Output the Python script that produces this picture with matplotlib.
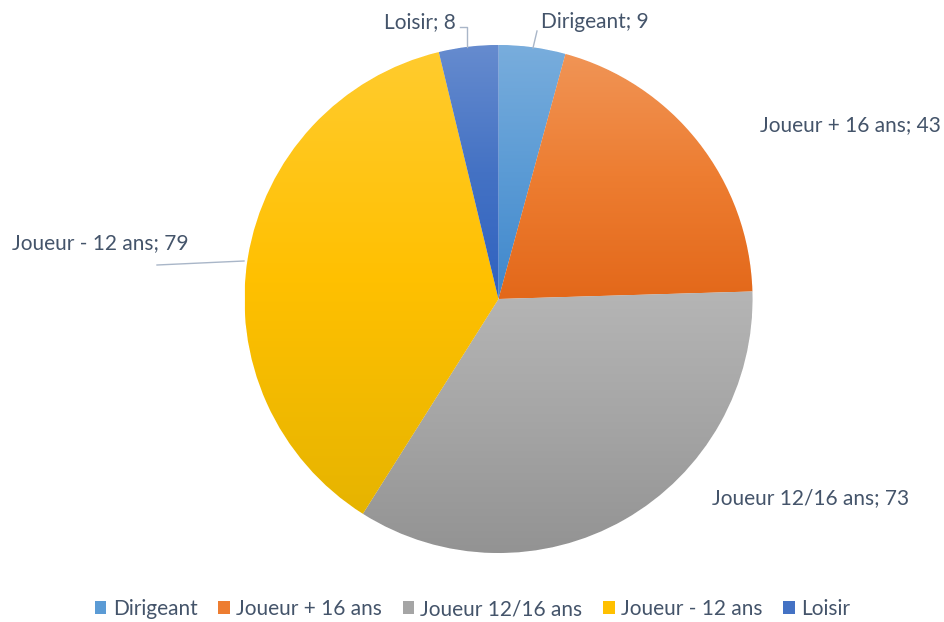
import numpy as np
import matplotlib
matplotlib.use("Agg")
import matplotlib.pyplot as plt
from matplotlib.colors import to_rgb, LinearSegmentedColormap
from matplotlib.patches import Patch

categories = ["Dirigeant", "Joueur + 16 ans", "Joueur 12/16 ans", "Joueur - 12 ans", "Loisir"]
values = [9, 43, 73, 79, 8]
colors = ["#5B9BD5", "#ED7D31", "#A5A5A5", "#FFC000", "#4472C4"]
bottoms = ["#3F87CC", "#E3681A", "#939393", "#E6B400", "#2F62C0"]

plt.rcParams['font.family'] = ['Lato', 'DejaVu Sans']
TEXT = "#44546A"

W, H = 945, 622
fig = plt.figure(figsize=(W / 100, H / 100), dpi=100)
ax = fig.add_axes([0, 0, 1, 1])

cx, cy, R = 498.5, H - 299, 254
wedges, _ = ax.pie(values, colors=colors, startangle=90, counterclock=False,
                   center=(cx, cy), radius=R, frame=True,
                   wedgeprops=dict(linewidth=0.6, edgecolor='white'))
ax.set_xlim(0, W)
ax.set_ylim(0, H)
ax.set_aspect('equal')
ax.axis('off')


def mix(c, t, a):
    c = np.array(to_rgb(c)); t = np.array(t)
    return tuple(c * (1 - a) + t * a)


for w, c, b in zip(wedges, colors, bottoms):
    path = w.get_path().transformed(w.get_patch_transform())
    ext = path.get_extents()
    top = mix(c, (1, 1, 1), 0.18)
    cmap = LinearSegmentedColormap.from_list("g", [to_rgb(b), to_rgb(c), top])
    grad = np.linspace(0, 1, 256).reshape(-1, 1)
    im = ax.imshow(grad, cmap=cmap, origin='lower', aspect='auto',
                   extent=(ext.x0, ext.x1, ext.y0, ext.y1), zorder=w.get_zorder() + 0.1,
                   interpolation='bilinear')
    im.set_clip_path(w)
ax.set_xlim(0, W)
ax.set_ylim(0, H)

fs = 15
labels = [f"{c}; {v}" for c, v in zip(categories, values)]
pos = [(541, 22, 'left'), (760, 125, 'left'), (712, 498, 'left'), (12, 243, 'left'), (456, 22, 'right')]
for lab, (x, y, ha) in zip(labels, pos):
    ax.text(x, H - y, lab, ha=ha, va='center', fontsize=fs, color=TEXT)

lc = "#A9B6C8"
ax.plot([537, 533], [H - 31, H - 48], color=lc, lw=1)
ax.plot([460, 467, 467], [H - 27, H - 27, H - 47], color=lc, lw=1)
ax.plot([157, 244], [H - 265, H - 261], color=lc, lw=1)

handles = [Patch(facecolor=c, edgecolor='none') for c in colors]
leg = fig.legend(handles, categories, loc='center', bbox_to_anchor=(0.5, 1 - 609 / H),
                 ncol=5, frameon=False, fontsize=fs, handlelength=0.55, handleheight=0.55,
                 handletextpad=0.3, columnspacing=1.0, labelcolor=TEXT)

fig.savefig("out.png", dpi=100, facecolor='white')
